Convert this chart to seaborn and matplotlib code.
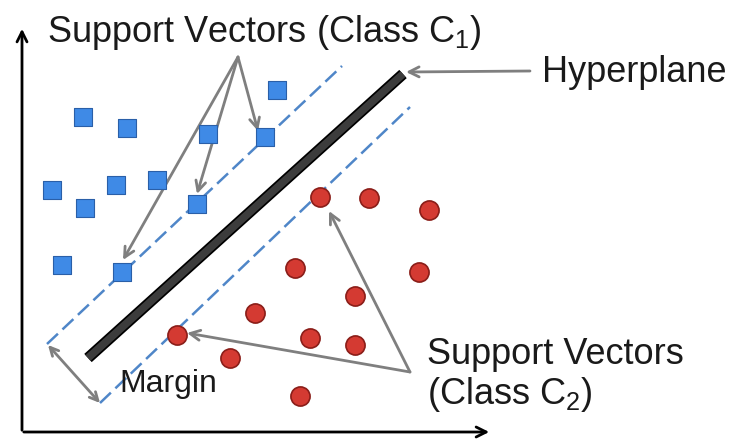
import numpy as np
import pandas as pd
import matplotlib
matplotlib.use('Agg')
import matplotlib.pyplot as plt
import matplotlib.patheffects as pe
import seaborn as sns

# DATA (picture coordinates, y grows downward) --------
class1_x = [83, 127, 208, 277, 265, 52, 85, 116, 157, 197, 62, 122]
class1_y = [117, 128, 134, 90, 137, 190, 208, 185, 180, 204, 265, 272]
class2_x = [320, 369, 429, 295, 419, 355, 177, 255, 310, 355, 230, 300]
class2_y = [197, 198, 210, 268, 272, 296, 335, 313, 338, 345, 358, 396]

hyperplane_x = [88, 403]
hyperplane_y = [358, 74]
margin_up_x = [47, 342]
margin_up_y = [344, 66]
margin_low_x = [100, 410]
margin_low_y = [403, 107]

sv1_apex = (238, 57)
sv1_targets = [(123, 260), (197, 194), (258, 131)]
sv2_apex = (410, 372)
sv2_targets = [(187, 333), (329, 211)]
hyper_arrow = ((530, 71), (406, 72))
margin_arrow = ((48, 345), (100, 403))
# -----------------------------------------------------

sns.set_style('white')
plt.rcParams['font.family'] = ['Liberation Sans', 'DejaVu Sans']
plt.rcParams['mathtext.default'] = 'regular'

df1 = pd.DataFrame({'x': class1_x, 'y': class1_y})
df2 = pd.DataFrame({'x': class2_x, 'y': class2_y})

fig = plt.figure(figsize=(7.35, 4.41), dpi=100)
ax = fig.add_axes([0, 0, 1, 1])
ax.set_xlim(0, 735)
ax.set_ylim(441, 0)
ax.axis('off')

# axes arrows
ax.annotate('', xy=(22, 26), xytext=(22, 433),
            arrowprops=dict(arrowstyle='->', color='black', lw=2, mutation_scale=18))
ax.annotate('', xy=(492, 432), xytext=(21, 432),
            arrowprops=dict(arrowstyle='->', color='black', lw=2, mutation_scale=18))

# margins and hyperplane
dash_col = '#4f86c8'
ax.plot(margin_up_x, margin_up_y, color=dash_col, lw=1.8, dashes=(6, 2.5))
ax.plot(margin_low_x, margin_low_y, color=dash_col, lw=1.8, dashes=(6, 2.5))
ax.plot(hyperplane_x, hyperplane_y, color='#3c3c3c', lw=5.5, solid_capstyle='butt',
        path_effects=[pe.Stroke(linewidth=8, foreground='black', capstyle='butt'), pe.Normal()])

# points
sns.scatterplot(data=df1, x='x', y='y', ax=ax, marker='s', s=160,
                color='#3f8ae6', edgecolor='#2a5fa8', linewidth=0.8, zorder=5)
sns.scatterplot(data=df2, x='x', y='y', ax=ax, marker='o', s=190,
                color='#d43a32', edgecolor='#8a1d18', linewidth=1.2, zorder=5)

arrow_col = '#7f7f7f'
aprops = dict(arrowstyle='->', color=arrow_col, lw=2, mutation_scale=18, shrinkA=0, shrinkB=0)
for t in sv1_targets:
    ax.annotate('', xy=t, xytext=sv1_apex, arrowprops=aprops)
for t in sv2_targets:
    ax.annotate('', xy=t, xytext=sv2_apex, arrowprops=aprops)
ax.annotate('', xy=hyper_arrow[1], xytext=hyper_arrow[0], arrowprops=aprops)
ax.annotate('', xy=margin_arrow[1], xytext=margin_arrow[0],
            arrowprops=dict(arrowstyle='<->', color=arrow_col, lw=2, mutation_scale=15,
                            shrinkA=0, shrinkB=0))

# labels
txt = '#1a1a1a'
ax.text(47, 32, 'Support Vectors (Class C$_1$)', fontsize=26, color=txt, va='center', ha='left')
ax.text(542, 73, 'Hyperplane', fontsize=26, color=txt, va='center', ha='left')
ax.text(427, 355, 'Support Vectors', fontsize=26, color=txt, va='center', ha='left')
ax.text(427, 394, '(Class C$_2$)', fontsize=26, color=txt, va='center', ha='left')
ax.text(119, 384, 'Margin', fontsize=23, color=txt, va='center', ha='left')

fig.savefig('out.png', dpi=100)
